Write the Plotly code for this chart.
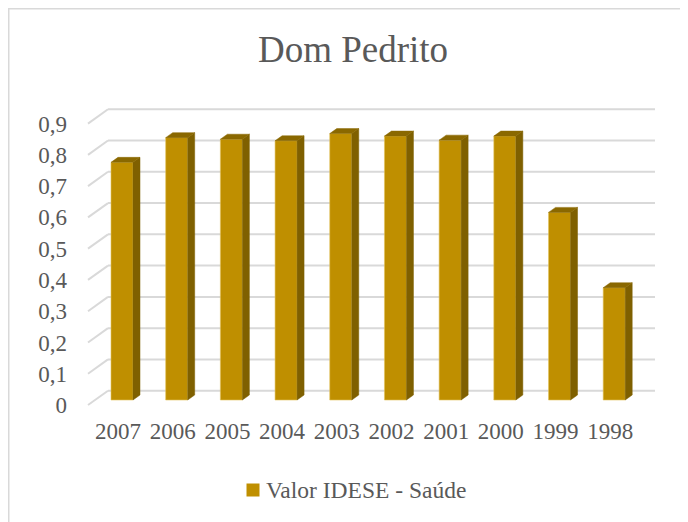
import plotly.graph_objects as go

# ---------------- data ----------------
title_text = "Dom Pedrito"
series_name = "Valor IDESE - Saúde"
categories = ["2007", "2006", "2005", "2004", "2003", "2002", "2001", "2000", "1999", "1998"]
values = [0.760, 0.839, 0.834, 0.829, 0.852, 0.844, 0.831, 0.844, 0.600, 0.359]
y_ticks = [0, 0.1, 0.2, 0.3, 0.4, 0.5, 0.6, 0.7, 0.8, 0.9]

# ---------------- geometry (page pixels) ----------------
OFF = 8                                   # default body margin of the page
W, H = 688 - OFF, 522 - OFF               # figure size
L, R, T, B = 80, 660, 100, 410            # plot area (page px)
S = 312.7                                 # px per value unit
PX = 54.69                                # px per category
X0_PX = 122                               # first category centre (bar front)
Y0_FRONT = 400                            # zero of bar front faces
Y0_BACK = 390.7                           # zero of back wall
Y0_EDGE = 405                             # zero at front edge of side wall
BAR_W_PX = 22
DEPTH_DX, DEPTH_DY = 7, 5                 # bar depth (px)
WALL_X_FRONT, WALL_X_BACK, WALL_X_END = 88, 108, 655
LEG_KEY = (246.5, 259.5)                  # legend key x extent
LEG_TEXT_X, LEG_Y = 264, 490

FRONT = "#BF8F00"
SIDE = "#7F6000"
TOP = "#8A6800"
GRID = "#D9D9D9"
TXT = "#595959"
FONT = "Liberation Serif, Tinos, Times New Roman, DejaVu Serif, serif"


def xd(px):  # page pixel -> x data
    return (px - X0_PX) / PX


def pxp(px):  # page pixel -> paper x
    return (px - L) / (R - L)


def pyp(py):  # page pixel -> paper y
    return (B - py) / (B - T)


bw = BAR_W_PX / PX
ddx = DEPTH_DX / PX
ddy = DEPTH_DY / S
back_off = (Y0_FRONT - Y0_BACK) / S
edge_off = (Y0_FRONT - Y0_EDGE) / S

xs = list(range(len(categories)))

fig = go.Figure()

# front faces
fig.add_trace(go.Bar(
    x=xs, y=values, width=bw, name=series_name,
    marker=dict(color=FRONT, line=dict(color="#E3C25A", width=0.6)),
    showlegend=False, hoverinfo="x+y",
))

# side faces
sx, sy = [], []
for x, v in zip(xs, values):
    r = x + bw / 2
    sx += [r, r, r + ddx, r + ddx, r, None]
    sy += [0, v, v + ddy, ddy, 0, None]
fig.add_trace(go.Scatter(x=sx, y=sy, fill="toself", fillcolor=SIDE, mode="lines",
                         line=dict(color=SIDE, width=0.5), showlegend=False, hoverinfo="skip"))

# top faces
tx, ty = [], []
for x, v in zip(xs, values):
    l, r = x - bw / 2, x + bw / 2
    tx += [l, r, r + ddx, l + ddx, l, None]
    ty += [v, v, v + ddy, v + ddy, v, None]
fig.add_trace(go.Scatter(x=tx, y=ty, fill="toself", fillcolor=TOP, mode="lines",
                         line=dict(color=TOP, width=0.5), showlegend=False, hoverinfo="skip"))

# invisible trace to activate label axis
fig.add_trace(go.Scatter(x=[None], y=[None], yaxis="y2", showlegend=False, hoverinfo="skip"))

# back wall grid + side wall diagonals
shapes = []
for g in y_ticks:
    yb = g + back_off
    ye = g + edge_off
    shapes.append(dict(type="line", xref="x", yref="y", layer="below",
                       x0=xd(WALL_X_BACK), x1=xd(WALL_X_END), y0=yb, y1=yb,
                       line=dict(color=GRID, width=2)))
    shapes.append(dict(type="line", xref="x", yref="y", layer="below",
                       x0=xd(WALL_X_FRONT), x1=xd(WALL_X_BACK), y0=ye, y1=yb,
                       line=dict(color=GRID, width=2)))

# chart border (top + left)
shapes.append(dict(type="line", xref="paper", yref="paper", x0=pxp(OFF), x1=pxp(W + 2 * OFF),
                   y0=pyp(OFF + 0.5), y1=pyp(OFF + 0.5), line=dict(color=GRID, width=2)))
shapes.append(dict(type="line", xref="paper", yref="paper", x0=pxp(OFF + 0.5), x1=pxp(OFF + 0.5),
                   y0=pyp(OFF), y1=pyp(H + 2 * OFF), line=dict(color=GRID, width=2)))

# legend key (square)
half = (LEG_KEY[1] - LEG_KEY[0]) / 2
shapes.append(dict(type="rect", xref="paper", yref="paper",
                   x0=pxp(LEG_KEY[0]), x1=pxp(LEG_KEY[1]),
                   y0=pyp(LEG_Y + half), y1=pyp(LEG_Y - half),
                   fillcolor=FRONT, line=dict(width=0)))

annotations = [dict(text=series_name, xref="paper", yref="paper",
                    x=pxp(LEG_TEXT_X), y=pyp(LEG_Y), xanchor="left", yanchor="middle",
                    showarrow=False, font=dict(family=FONT, size=23.5, color=TXT))]

fig.update_layout(
    width=W, height=H,
    margin=dict(l=L - OFF, r=(W + OFF) - R, t=T - OFF, b=(H + OFF) - B, pad=0),
    paper_bgcolor="white", plot_bgcolor="white",
    separators=",.",
    font=dict(family=FONT, color=TXT, size=23),
    title=dict(text=title_text, x=(353 - OFF) / W, xref="container", xanchor="center",
               y=1 - (49 - OFF) / H, yref="container", yanchor="middle",
               font=dict(family=FONT, size=37, color=TXT)),
    xaxis=dict(range=[xd(L), xd(R)], tickmode="array", tickvals=xs, ticktext=categories,
               showgrid=False, zeroline=False, showline=False, ticks="",
               ticklabelshift=-4, ticklabelstandoff=5,
               tickfont=dict(family=FONT, size=23, color=TXT)),
    yaxis=dict(range=[(Y0_FRONT - B) / S, (Y0_FRONT - T) / S], visible=False,
               showgrid=False, zeroline=False),
    yaxis2=dict(range=[(Y0_EDGE - B) / S, (Y0_EDGE - T) / S], overlaying="y", side="left",
                anchor="x", tickmode="array", tickvals=y_ticks,
                showgrid=False, zeroline=False, showline=False, ticks="",
                ticklabelstandoff=12,
                tickfont=dict(family=FONT, size=23, color=TXT)),
    shapes=shapes,
    annotations=annotations,
    showlegend=False,
)

fig.write_html("out.html")
